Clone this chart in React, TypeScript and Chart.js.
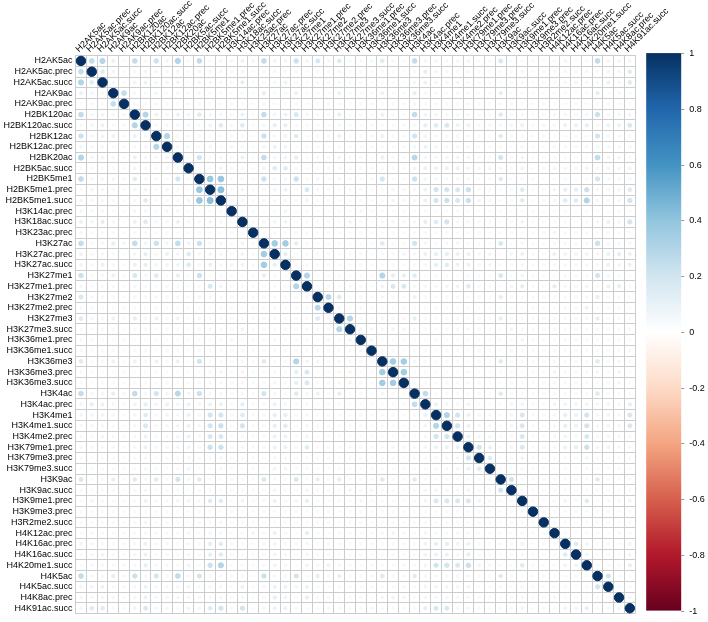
import React, { useEffect, useRef } from "react";
import { Chart, registerables } from "chart.js";
Chart.register(...registerables);

const marks = [
  "H2AK5ac","H2AK5ac.prec","H2AK5ac.succ","H2AK9ac","H2AK9ac.prec","H2BK120ac","H2BK120ac.succ","H2BK12ac","H2BK12ac.prec","H2BK20ac",
  "H2BK5ac.succ","H2BK5me1","H2BK5me1.prec","H2BK5me1.succ","H3K14ac.prec","H3K18ac.succ","H3K23ac.prec","H3K27ac","H3K27ac.prec","H3K27ac.succ",
  "H3K27me1","H3K27me1.prec","H3K27me2","H3K27me2.prec","H3K27me3","H3K27me3.succ","H3K36me1.prec","H3K36me1.succ","H3K36me3","H3K36me3.prec",
  "H3K36me3.succ","H3K4ac","H3K4ac.prec","H3K4me1","H3K4me1.succ","H3K4me2.prec","H3K79me1.prec","H3K79me3.prec","H3K79me3.succ","H3K9ac",
  "H3K9ac.succ","H3K9me1.prec","H3K9me3.prec","H3R2me2.succ","H4K12ac.prec","H4K16ac.prec","H4K16ac.succ","H4K20me1.succ","H4K5ac","H4K5ac.succ",
  "H4K8ac.prec","H4K91ac.succ",
];

// upper triangle of the correlation matrix: row i holds columns i+1 .. 51
const upperRows: number[][] = [
  [0.25,0.3,0.1,0.04,0.25,0.06,0.22,0.07,0.3,0.05,0.25,0.05, 0.07,0.07,0.1,0.07,0.25,0.08,0.08,0.22,0.07,0.18,0.06,0.15,0.05, 0.06,0.06,0.15,0.06,0.05,0.25,0.07,0.07,0.06,0.06,0.07,0.05,0.05, 0.18,0.05,0.05,0.05,0.05,0.05,0.07,0.05,0.05,0.25,0.07,0.07,0.07],
  [0.15,0.07,0.05,0.06,0.07,0.07,0.06,0.07,0.05,0.07,0.07, 0.06,0.06,0.08,0.05,0.06,0.06,0.06,0.06,0.05,0.06,0.05,0.06,0.05, 0.05,0.05,0.05,0.04,0.04,0.06,0.12,0.07,0.06,0.06,0.06,0.05,0.05, 0.05,0.05,0.07,0.05,0.05,0.06,0.06,0.06,0.06,0.06,0.08,0.06,0.15],
  [0.06,0.05,0.08,0.1,0.07,0.07,0.08,0.05,0.08,0.07, 0.06,0.06,0.12,0.05,0.06,0.06,0.1,0.06,0.05,0.06,0.05,0.06,0.05, 0.05,0.05,0.05,0.04,0.04,0.07,0.1,0.08,0.06,0.07,0.06,0.05,0.05, 0.05,0.05,0.06,0.05,0.05,0.05,0.06,0.08,0.06,0.06,0.1,0.06,0.15],
  [0.25,0.06,0.05,0.08,0.05,0.06,0.05,0.07,0.05, 0.05,0.05,0.06,0.05,0.12,0.05,0.06,0.1,0.05,0.05,0.05,0.1,0.05, 0.05,0.05,0.1,0.05,0.05,0.12,0.06,0.06,0.05,0.06,0.06,0.05,0.05, 0.12,0.05,0.05,0.05,0.05,0.05,0.05,0.05,0.05,0.12,0.05,0.06,0.05],
  [0.06,0.05,0.05,0.05,0.05,0.05,0.05,0.05, 0.05,0.05,0.05,0.05,0.07,0.05,0.05,0.05,0.05,0.05,0.05,0.05,0.05, 0.05,0.05,0.05,0.05,0.05,0.06,0.05,0.05,0.05,0.05,0.05,0.05,0.05, 0.05,0.05,0.05,0.05,0.05,0.05,0.05,0.05,0.05,0.06,0.05,0.05,0.05],
  [0.3,0.1,0.06,0.1,0.07,0.15,0.07, 0.06,0.06,0.1,0.05,0.25,0.07,0.1,0.18,0.06,0.06,0.05,0.12,0.05, 0.05,0.05,0.1,0.05,0.05,0.25,0.08,0.07,0.06,0.06,0.06,0.05,0.05, 0.15,0.05,0.06,0.05,0.05,0.06,0.06,0.06,0.06,0.22,0.06,0.06,0.08],
  [0.06,0.07,0.06,0.06,0.06,0.08, 0.15,0.06,0.15,0.05,0.07,0.12,0.12,0.06,0.05,0.05,0.05,0.06,0.05, 0.05,0.05,0.05,0.05,0.05,0.06,0.12,0.15,0.18,0.1,0.1,0.06,0.06, 0.06,0.07,0.1,0.05,0.07,0.06,0.1,0.1,0.12,0.06,0.1,0.1,0.18],
  [0.3,0.06,0.05,0.06,0.05, 0.05,0.05,0.06,0.05,0.22,0.06,0.08,0.15,0.05,0.06,0.05,0.1,0.05, 0.05,0.05,0.1,0.05,0.05,0.2,0.07,0.06,0.06,0.06,0.06,0.05,0.05, 0.15,0.05,0.06,0.05,0.05,0.05,0.05,0.05,0.05,0.2,0.06,0.06,0.06],
  [0.07,0.05,0.05,0.07, 0.05,0.07,0.06,0.05,0.07,0.1,0.08,0.05,0.05,0.05,0.05,0.05,0.05, 0.05,0.05,0.05,0.05,0.05,0.07,0.1,0.07,0.06,0.06,0.06,0.05,0.05, 0.05,0.05,0.06,0.05,0.05,0.06,0.06,0.06,0.06,0.06,0.06,0.06,0.06],
  [0.05,0.2,0.05, 0.06,0.06,0.1,0.05,0.25,0.06,0.08,0.12,0.05,0.06,0.05,0.08,0.05, 0.05,0.05,0.1,0.05,0.05,0.28,0.07,0.06,0.07,0.07,0.07,0.05,0.05, 0.2,0.05,0.07,0.05,0.05,0.05,0.05,0.05,0.05,0.25,0.07,0.07,0.05],
  [0.05,0.05, 0.08,0.05,0.06,0.05,0.08,0.15,0.15,0.05,0.05,0.05,0.05,0.05,0.05, 0.05,0.05,0.05,0.05,0.05,0.07,0.1,0.1,0.1,0.1,0.08,0.06,0.07, 0.07,0.05,0.08,0.05,0.05,0.07,0.06,0.06,0.08,0.06,0.08,0.06,0.08],
  [0.38, 0.38,0.05,0.06,0.05,0.22,0.06,0.06,0.22,0.05,0.07,0.05,0.06,0.05, 0.05,0.05,0.2,0.05,0.05,0.22,0.07,0.06,0.06,0.06,0.06,0.05,0.05, 0.15,0.05,0.06,0.05,0.05,0.05,0.05,0.05,0.05,0.2,0.06,0.06,0.06],
  [0.42,0.05,0.07,0.05,0.06,0.08,0.1,0.05,0.18,0.06,0.05,0.05,-0.06, 0.05,0.05,0.05,0.06,0.06,0.06,0.1,0.2,0.2,0.18,0.22,0.05,0.05, 0.05,0.05,0.15,0.05,0.05,0.07,0.12,0.12,0.22,0.06,0.06,0.06,0.15],
  [0.05,0.06,0.05,0.07,0.06,0.06,0.05,0.08,-0.05,0.05,0.05,0.05, 0.05,0.05,0.05,0.07,0.06,0.06,0.1,0.2,0.22,0.18,0.22,0.07,0.06, 0.05,0.05,0.15,0.05,0.06,0.06,0.15,0.15,0.3,0.06,0.06,0.06,0.2],
  [0.05,0.05,0.05,0.05,0.07,0.05,0.05,0.05,0.05,0.05,0.05, 0.07,0.05,0.05,0.05,0.05,0.05,0.05,0.05,0.05,0.05,0.05,0.05,0.05, 0.05,0.05,0.05,0.05,0.05,0.05,0.05,0.05,0.05,0.05,0.05,0.05,0.05],
  [0.05,0.07,0.08,0.08,0.05,0.05,0.05,0.05,0.05,0.08, 0.05,0.05,-0.06,-0.07,-0.06,0.06,0.12,0.15,0.2,0.06,0.06,0.05,0.05, 0.05,0.05,0.08,0.05,0.05,0.05,0.05,0.05,0.05,0.06,0.1,0.06,0.2],
  [0.05,0.05,0.05,0.05,0.05,0.05,0.05,0.05,0.05, 0.05,0.05,0.05,0.05,0.05,0.05,0.05,0.05,0.05,0.05,0.05,0.05,0.05, 0.05,0.05,0.05,0.05,0.05,0.07,0.05,0.05,0.05,0.05,0.05,0.05,0.05],
  [0.35,0.35,0.12,0.05,0.05,0.05,0.05,0.05, 0.05,0.05,0.15,0.05,0.05,0.2,0.06,0.06,0.06,0.06,0.06,0.05,0.05, 0.18,0.05,0.06,0.05,0.05,0.06,0.06,0.06,0.06,0.22,0.06,0.06,0.06],
  [0.12,0.05,0.05,0.05,0.05,0.05,0.05, 0.05,0.05,0.05,0.05,0.07,0.06,0.1,0.12,0.12,0.1,0.1,0.06,0.07, 0.05,0.07,0.1,0.05,0.05,0.1,0.08,0.08,0.08,0.06,0.1,0.12,0.1],
  [0.05,0.05,0.05,0.05,0.05,0.05, 0.05,0.05,0.05,0.05,0.05,0.05,0.06,0.12,0.15,0.1,0.1,0.06,0.07, 0.05,0.05,0.06,0.05,0.05,0.06,0.06,0.06,0.06,0.06,0.1,0.08,0.1],
  [0.3,0.05,0.05,0.05,0.05, 0.05,0.05,0.3,0.12,0.12,0.15,0.05,0.05,0.05,0.05,0.05,0.05,0.05, 0.18,0.05,0.07,0.05,0.05,0.05,0.05,0.05,0.05,0.2,0.07,0.05,0.05],
  [0.05,0.05,-0.05,-0.06, 0.05,0.05,0.08,0.18,0.18,0.06,0.06,0.06,0.07,0.08,0.15,0.05,0.05, 0.05,0.07,0.12,0.05,0.05,0.12,0.06,0.06,0.08,0.05,0.1,0.12,0.05],
  [0.28,0.15,0.05, 0.05,0.05,0.07,0.05,0.05,0.1,0.05,0.05,0.05,0.05,-0.05,0.05,0.05, 0.12,0.05,0.05,0.05,0.05,0.05,0.05,0.05,-0.06,0.12,0.05,0.05,0.05],
  [0.06,0.05, 0.06,0.05,0.05,0.05,0.05,0.05,0.05,0.05,0.05,0.05,-0.05,0.05,0.05, 0.05,0.05,0.05,0.05,0.05,0.05,0.05,0.05,-0.1,0.05,0.05,0.05,0.05],
  [0.3, 0.05,0.05,-0.06,-0.06,-0.06,0.12,0.05,0.05,0.05,-0.05,-0.05,0.05,0.05, 0.12,0.05,0.05,0.05,0.05,0.05,0.05,0.05,-0.06,0.12,0.05,0.05,0.05],
  [0.07,0.06,-0.06,-0.08,-0.08,0.05,0.05,0.05,0.05,0.05,-0.06,0.05,0.05, 0.05,0.07,0.05,0.05,0.05,0.05,0.05,0.05,0.05,0.05,0.05,0.05,0.05],
  [0.07,0.05,0.05,0.05,0.05,0.05,0.05,0.05,0.05,0.05,0.05,0.05, 0.05,0.05,0.07,0.05,0.05,0.05,0.05,0.05,0.05,0.05,0.05,0.05,0.05],
  [0.05,0.05,0.05,0.05,0.05,0.05,0.05,0.05,0.05,0.05,0.05, 0.05,0.06,0.05,0.05,0.05,0.05,0.05,0.05,0.05,0.05,0.05,0.05,0.06],
  [0.35,0.35,0.07,0.05,0.05,0.05,0.05,0.05,0.05,0.05, 0.15,0.05,0.05,0.05,0.05,0.06,0.05,0.05,0.05,0.15,0.05,0.07,0.05],
  [0.35,0.05,0.05,0.05,0.05,0.05,0.06,0.05,0.05, 0.05,0.05,0.05,0.05,0.05,0.08,0.05,0.05,0.05,0.06,0.05,0.08,0.05],
  [0.05,0.05,0.05,0.05,0.05,0.06,0.05,0.05, 0.05,0.05,0.05,0.05,0.05,0.06,0.05,0.05,0.05,0.05,0.05,0.07,0.05],
  [0.25,0.05,0.05,0.05,0.05,0.05,0.05, 0.15,0.05,0.05,0.05,0.05,0.05,0.05,0.05,0.05,0.15,0.05,0.05,0.05],
  [0.1,0.07,0.06,0.07,0.05,0.05, 0.05,0.07,0.08,0.05,0.05,0.07,0.08,0.08,0.08,0.06,0.08,0.06,0.12],
  [0.3,0.2,0.1,0.06,0.06, 0.05,0.07,0.18,0.05,0.05,0.06,0.12,0.1,0.2,0.06,0.08,0.06,0.18],
  [0.2,0.1,0.06,0.06, 0.05,0.07,0.18,0.05,0.05,0.06,0.12,0.1,0.2,0.06,0.08,0.06,0.18],
  [0.1,0.07,0.07, 0.05,0.06,0.18,0.05,0.05,0.06,0.08,0.06,0.18,0.06,0.07,0.06,0.06],
  [0.2,0.1, 0.05,0.07,0.18,0.05,0.05,0.06,0.1,0.12,0.22,0.07,0.08,0.06,0.06],
  [0.15, 0.05,0.05,0.08,0.05,0.05,0.05,0.05,0.05,0.08,0.05,0.05,0.05,0.05],
  [0.05,0.05,0.06,0.05,0.05,0.05,0.05,0.05,0.06,0.05,0.05,0.05,0.05],
  [0.2,0.05,0.05,0.05,0.05,0.05,0.05,0.05,0.15,0.05,0.05,0.05],
  [0.05,0.05,0.05,0.05,0.05,0.05,0.05,0.05,0.05,0.05,0.05],
  [0.05,0.05,0.06,0.08,0.06,0.15,0.05,0.06,0.06,0.08],
  [0.05,0.05,0.05,0.05,0.05,0.05,0.05,0.05,0.05],
  [0.05,0.05,0.05,0.05,0.05,0.05,0.05,0.05],
  [0.05,0.05,0.05,0.05,0.05,0.06,0.05],
  [0.15,0.08,0.05,0.05,0.05,0.08],
  [0.08,0.05,0.05,0.05,0.08],
  [0.05,0.05,0.05,0.12],
  [0.2,0.05,0.05],
  [0.05,0.05],
  [0.06],
];

const paletteStops = ["#67001F","#B2182B","#D6604D","#F4A582","#FDDBC7","#FFFFFF","#D1E5F0","#92C5DE","#4393C3","#2166AC","#053061"];
const legendTicks = [1, 0.8, 0.6, 0.4, 0.2, 0, -0.2, -0.4, -0.6, -0.8, -1];
const legendTickLabels = ["1", "0.8", "0.6", "0.4", "0.2", "0", "-0.2", "-0.4", "-0.6", "-0.8", "-1"];

const FONT = "'Liberation Sans', Arial, Helvetica, sans-serif";

function hexToRgb(h: string) {
  return [parseInt(h.slice(1, 3), 16), parseInt(h.slice(3, 5), 16), parseInt(h.slice(5, 7), 16)];
}
function corrColor(v: number) {
  const t = ((Math.max(-1, Math.min(1, v)) + 1) / 2) * (paletteStops.length - 1);
  const i = Math.min(paletteStops.length - 2, Math.floor(t));
  const f = t - i;
  const a = hexToRgb(paletteStops[i]);
  const b = hexToRgb(paletteStops[i + 1]);
  const c = a.map((x, k) => Math.round(x + (b[k] - x) * f));
  return `rgb(${c[0]},${c[1]},${c[2]})`;
}

function valueAt(i: number, j: number) {
  if (i === j) return 1;
  const a = Math.min(i, j), b = Math.max(i, j);
  return upperRows[a][b - a - 1];
}

const colorbarPlugin = {
  id: "colorbar",
  beforeDraw(chart: any) {
    const ctx = chart.ctx;
    ctx.save();
    ctx.fillStyle = "#ffffff";
    ctx.fillRect(0, 0, chart.width, chart.height);
    ctx.restore();
  },
  afterDraw(chart: any) {
    const ctx = chart.ctx;
    const a = chart.chartArea;
    const top = a.top - 2.5;
    const bottom = a.bottom - 3;
    const x0 = a.right + 11;
    const x1 = a.right + 46;
    const yOf = (v: number) => top + ((1 - v) / 2) * (bottom - top);
    ctx.save();
    const g = ctx.createLinearGradient(0, top, 0, bottom);
    paletteStops.forEach((c, k) => g.addColorStop(1 - k / (paletteStops.length - 1), c));
    ctx.fillStyle = g;
    ctx.fillRect(x0, top, x1 - x0, bottom - top);
    ctx.strokeStyle = "#9a9a9a";
    ctx.lineWidth = 1;
    ctx.fillStyle = "#000";
    ctx.font = `9px ${FONT}`;
    ctx.textAlign = "left";
    ctx.textBaseline = "middle";
    legendTicks.forEach((v, k) => {
      const y = Math.round(yOf(v)) + 0.5;
      ctx.beginPath();
      ctx.moveTo(x1, y);
      ctx.lineTo(x1 + 3, y);
      ctx.stroke();
      ctx.fillText(legendTickLabels[k], x1 + 8, y);
    });
    ctx.restore();
  },
};

export default function App() {
  const ref = useRef<HTMLCanvasElement | null>(null);
  useEffect(() => {
    if (!ref.current) return;
    const points: any[] = [];
    for (let i = 0; i < marks.length; i++) {
      for (let j = 0; j < marks.length; j++) {
        points.push({ x: marks[j], y: marks[i], v: valueAt(i, j) });
      }
    }
    const n = marks.length;
    const colorOf = (c: any) => corrColor(c.raw ? c.raw.v : 0);
    const chart = new Chart(ref.current, {
      type: "scatter",
      data: {
        datasets: [
          {
            data: points,
            showLine: false,
            pointBackgroundColor: colorOf,
            pointBorderColor: colorOf,
            pointBorderWidth: 1,
            pointRadius: (c: any) => {
              const area = c.chart.chartArea;
              if (!area || !c.raw) return 0;
              const cell = (area.right - area.left) / n;
              return 0.44 * Math.sqrt(Math.abs(c.raw.v)) * cell;
            },
          } as any,
        ],
      },
      options: {
        animation: false,
        responsive: false,
        events: [],
        layout: { padding: { top: 0, left: 0, right: 72.8, bottom: 6.8 } },
        plugins: { legend: { display: false }, tooltip: { enabled: false } },
        scales: {
          x: {
            type: "category",
            labels: marks,
            position: "top",
            offset: true,
            grid: { offset: true, color: "#cccccc", lineWidth: 1, drawTicks: false },
            border: { display: true, color: "#cccccc" },
            ticks: {
              autoSkip: false,
              minRotation: 45,
              maxRotation: 45,
              padding: 1,
              labelOffset: 4,
              color: "#000",
              font: { family: FONT, size: 9 },
            },
            afterFit: (s: any) => {
              s.height = 55.6;
            },
          },
          y: {
            type: "category",
            labels: marks,
            offset: true,
            grid: { offset: true, color: "#cccccc", lineWidth: 1, drawTicks: false },
            border: { display: true, color: "#cccccc" },
            ticks: {
              autoSkip: false,
              padding: 3,
              color: "#000",
              font: { family: FONT, size: 9 },
            },
            afterFit: (s: any) => {
              s.width = 75.6;
            },
          },
        },
      } as any,
      plugins: [colorbarPlugin],
    });
    return () => chart.destroy();
  }, []);
  return (
    <div style={{ position: "absolute", left: 0, top: 0, width: 708, height: 622, background: "#fff" }}>
      <canvas ref={ref} width={708} height={622} />
    </div>
  );
}
